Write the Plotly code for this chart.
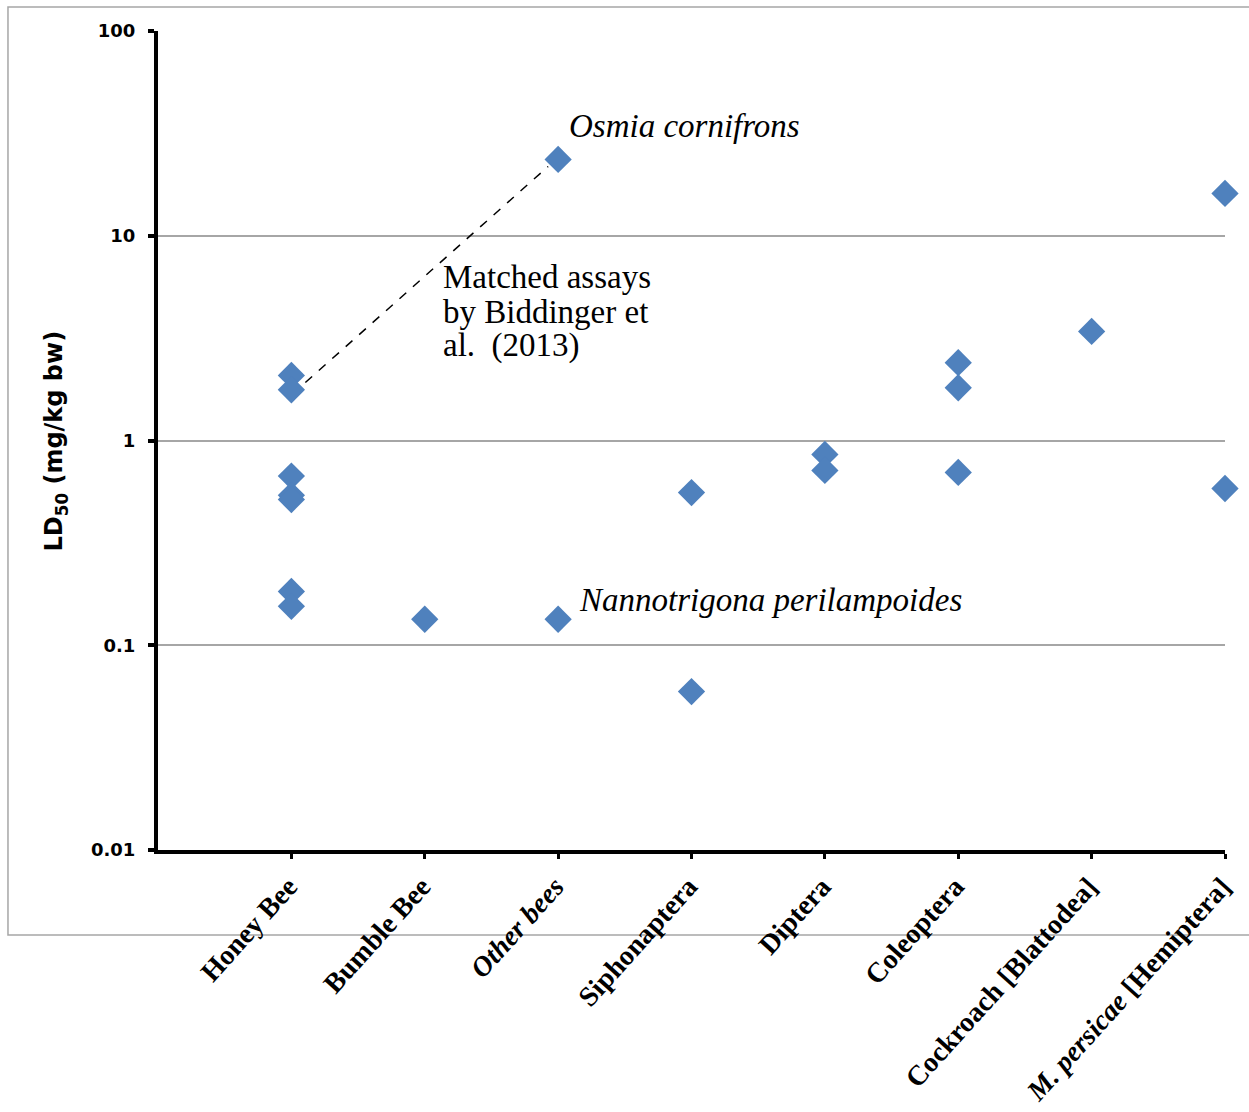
import plotly.graph_objects as go

categories = ["Honey Bee", "Bumble Bee", "<i>Other bees</i>", "Siphonaptera", "Diptera",
              "Coleoptera", "Cockroach [Blattodea]", "<i>M. persicae</i> [Hemiptera]"]

# LD50 values (mg/kg bw) per category index
honey_bee = [2.08, 1.77, 0.67, 0.54, 0.515, 0.183, 0.155]
bumble_bee = [0.134]
other_bees = [23.6, 0.134]
siphonaptera = [0.557, 0.0594]
diptera = [0.855, 0.714]
coleoptera = [2.40, 1.81, 0.698]
cockroach = [3.41]
m_persicae = [16.1, 0.583]

groups = [honey_bee, bumble_bee, other_bees, siphonaptera, diptera, coleoptera, cockroach, m_persicae]

# dashed "matched assays" connector (Honey Bee point -> Osmia cornifrons point)
matched_x = [0.105, 1.925]
matched_y = [1.92, 21.8]

xs, ys = [], []
for i, g in enumerate(groups):
    for v in g:
        xs.append(i)
        ys.append(v)

fig = go.Figure()
fig.add_trace(go.Scatter(x=matched_x, y=matched_y, mode="lines",
                         line=dict(color="black", width=1.5, dash="dash"),
                         hoverinfo="skip", showlegend=False))
fig.add_trace(go.Scatter(x=xs, y=ys, mode="markers",
                         marker=dict(symbol="diamond", size=21, color="#4F81BD"),
                         cliponaxis=False, showlegend=False))

serif = "Liberation Serif"
fig.update_layout(
    width=1249, height=1112,
    margin=dict(l=158, r=24, t=31, b=262),
    paper_bgcolor="white", plot_bgcolor="white",
    showlegend=False,
    xaxis=dict(range=[-1, 7], tickmode="array", tickvals=list(range(len(categories))),
               ticktext=categories, tickangle=-48, automargin=False,
               tickfont=dict(family=serif, size=28, color="black", weight="bold"),
               showgrid=False, zeroline=False, showline=True, linecolor="black", linewidth=4,
               ticks="outside", ticklen=5, tickwidth=3, tickcolor="black",
               ticklabelstandoff=0, ticklabelshift=-3),
    yaxis=dict(type="log", range=[-2, 2], tickmode="array", automargin=False,
               tickvals=[0.01, 0.1, 1, 10, 100], ticktext=["0.01", "0.1", "1", "10", "100"],
               tickfont=dict(family="DejaVu Sans", size=18, color="black", weight="bold"),
               showgrid=True, gridcolor="#A6A6A6", gridwidth=1.5, zeroline=False,
               showline=True, linecolor="black", linewidth=4, ticklabelstandoff=9,
               ticks="outside", ticklen=6, tickwidth=4, tickcolor="black"),
)

# outer frame
fig.add_shape(type="rect", xref="paper", yref="paper", x0=-0.1406, x1=1.1, y0=-0.1038, y1=1.0293,
              line=dict(color="#A6A6A6", width=1.5), fillcolor="rgba(0,0,0,0)", layer="below")

fig.add_annotation(text="LD<sub>50</sub> (mg/kg bw)", xref="paper", yref="paper", x=-0.0956, y=0.5,
                   xanchor="center", yanchor="middle", textangle=-90, showarrow=False,
                   font=dict(family="DejaVu Sans", size=24, color="black", weight="bold"))

fig.add_annotation(text="<i>Osmia cornifrons</i>", x=2.069, y=1.534, xanchor="left", yanchor="middle",
                   showarrow=False, font=dict(family=serif, size=33, color="black"))
for txt, ly in [("Matched assays", 0.801), ("by Biddinger et", 0.630), ("al.  (2013)", 0.464)]:
    fig.add_annotation(text=txt, x=1.124, y=ly, xanchor="left", yanchor="middle",
                       showarrow=False, font=dict(family=serif, size=33, color="black"))
fig.add_annotation(text="<i>Nannotrigona perilampoides</i>", x=2.144, y=-0.781, xanchor="left",
                   yanchor="middle", showarrow=False, font=dict(family=serif, size=33, color="black"))

fig.write_html("out.html")
